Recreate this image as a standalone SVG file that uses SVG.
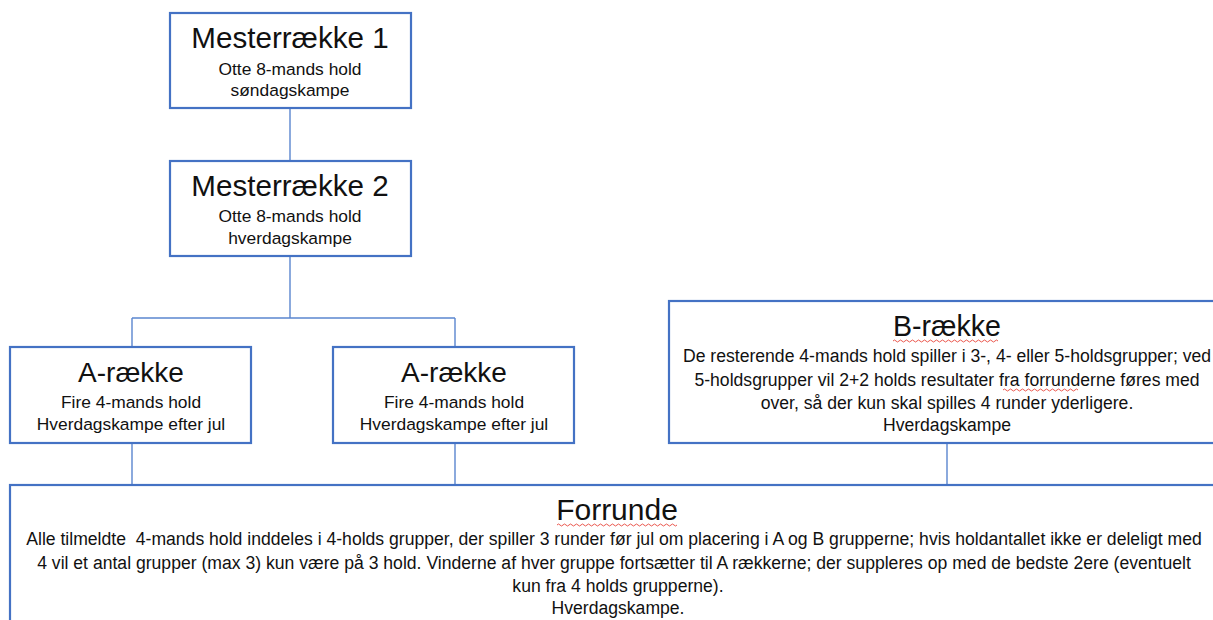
<svg xmlns="http://www.w3.org/2000/svg" width="1213" height="620" viewBox="0 0 1213 620">
<defs>
<style>
.box{fill:#fff;stroke:#4472C4;stroke-width:2.2}
.con{fill:none;stroke:#5B86CF;stroke-width:1.4}
.t{font-family:"Liberation Sans",Arial,sans-serif;fill:#111;text-anchor:middle;white-space:pre}
.h{font-size:28px}
.s{font-size:17.4px}
.b{font-size:17.6px}
.sq{fill:none;stroke:#E8463C;stroke-width:0.9}
</style>
</defs>
<rect width="1213" height="620" fill="#fff"/>
<g id="connectors">
<path class="con" d="M290 108V160M290 256V318M132 318H455M132 318V347M455 318V347M132 443V485M455 443V485M947 443V485"/>
</g>
<g id="mester1">
<rect class="box" x="170" y="13" width="241" height="95"/>
<text class="t h" x="290" y="48" style="font-size:29.6px">Mesterrække 1</text>
<text class="t s" x="290" y="75">Otte 8-mands hold</text>
<text class="t s" x="290" y="96">søndagskampe</text>
</g>
<g id="mester2">
<rect class="box" x="170" y="161" width="241" height="95"/>
<text class="t h" x="290" y="196" style="font-size:29.6px">Mesterrække 2</text>
<text class="t s" x="290" y="222">Otte 8-mands hold</text>
<text class="t s" x="290" y="244">hverdagskampe</text>
</g>
<g id="arække1">
<rect class="box" x="10" y="347" width="241" height="96"/>
<text class="t h" x="131" y="382">A-række</text>
<text class="t s" x="131" y="408">Fire 4-mands hold</text>
<text class="t s" x="131" y="430">Hverdagskampe efter jul</text>
</g>
<g id="arække2">
<rect class="box" x="333" y="347" width="241" height="96"/>
<text class="t h" x="454" y="382">A-række</text>
<text class="t s" x="454" y="408">Fire 4-mands hold</text>
<text class="t s" x="454" y="430">Hverdagskampe efter jul</text>
</g>
<g id="brække">
<rect class="box" x="669" y="301" width="560" height="142"/>
<text class="t h" x="947" y="336" style="font-size:28.6px">B-række</text>
<path class="sq" d="M893 341q1.5 -2 3 0t3 0t3 0t3 0t3 0t3 0t3 0t3 0t3 0t3 0t3 0t3 0t3 0t3 0t3 0t3 0t3 0t3 0t3 0t3 0t3 0t3 0t3 0t3 0t3 0t3 0t3 0t3 0t3 0t3 0t3 0t3 0t3 0t3 0t3 0"/>
<text class="t b" x="947" y="362">De resterende 4-mands hold spiller i 3-, 4- eller 5-holdsgrupper; ved</text>
<text class="t b" x="947" y="386">5-holdsgrupper vil 2+2 holds resultater fra forrunderne føres med</text>
<path class="sq" d="M1003 390q1.5 -2 3 0t3 0t3 0t3 0t3 0t3 0t3 0t3 0t3 0t3 0t3 0t3 0t3 0t3 0t3 0t3 0t3 0t3 0t3 0t3 0t3 0t3 0t3 0t3 0t3 0"/>
<text class="t b" x="947" y="409">over, så der kun skal spilles 4 runder yderligere.</text>
<text class="t b" x="947" y="431">Hverdagskampe</text>
</g>
<g id="forrunde">
<rect class="box" x="10" y="485" width="1216" height="150"/>
<text class="t h" x="617" y="520" style="font-size:30px">Forrunde</text>
<path class="sq" d="M557 525q1.5 -2 3 0t3 0t3 0t3 0t3 0t3 0t3 0t3 0t3 0t3 0t3 0t3 0t3 0t3 0t3 0t3 0t3 0t3 0t3 0t3 0t3 0t3 0t3 0t3 0t3 0t3 0t3 0t3 0t3 0t3 0t3 0t3 0t3 0t3 0t3 0t3 0t3 0t3 0t3 0t3 0"/>
<text class="t b" x="614" y="545">Alle tilmeldte  4-mands hold inddeles i 4-holds grupper, der spiller 3 runder før jul om placering i A og B grupperne; hvis holdantallet ikke er deleligt med</text>
<text class="t b" x="614" y="569">4 vil et antal grupper (max 3) kun være på 3 hold. Vinderne af hver gruppe fortsætter til A rækkerne; der suppleres op med de bedste 2ere (eventuelt</text>
<text class="t b" x="618" y="592">kun fra 4 holds grupperne).</text>
<text class="t b" x="618" y="614">Hverdagskampe.</text>
</g>
</svg>
